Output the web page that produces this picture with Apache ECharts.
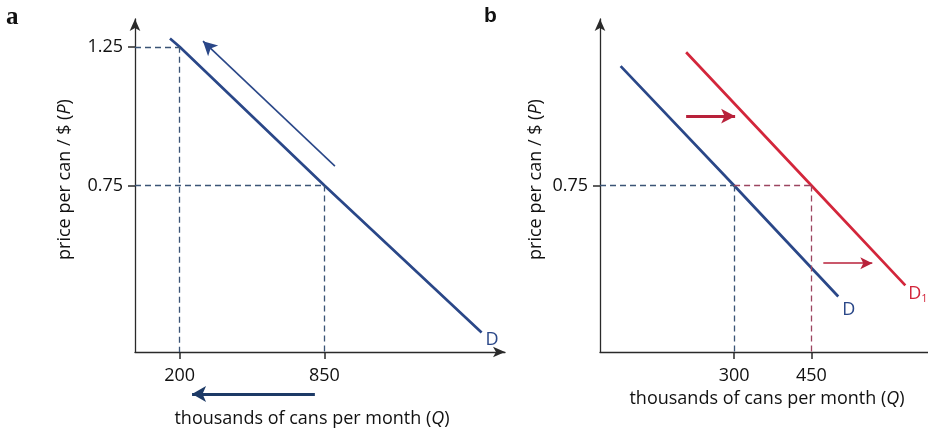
<!DOCTYPE html>
<html><head><meta charset="utf-8">
<script src="https://cdn.jsdelivr.net/npm/echarts@6/dist/echarts.min.js"></script>
<style>html,body{margin:0;padding:0;background:#fff}#c{width:928px;height:430px}</style>
</head><body><div id="c"></div>
<script>
// ---- data ----
const aTicksQ = [200, 850];
const aTicksP = [1.25, 0.75];
const aDemand = [[157, 1.28], [200, 1.25], [850, 0.75], [1555, 0.22]];
const aMoveAlong = [[897, 0.82], [305, 1.27]];
const aQuantityArrow = [[807, 0], [256, 0]];

const bTicksQ = [300, 450];
const bTicksP = [0.75];
const bDemandD = [[80, 1.18], [300, 0.75], [502, 0.35]];
const bDemandD1 = [[207, 1.23], [450, 0.75], [632, 0.39]];
const bShiftBig = [[207, 1.0], [302, 1.0]];
const bShiftSmall = [[473, 0.47], [568, 0.47]];

const xTitle = 'thousands of cans per month ({i|Q})';
const yTitle = 'price per can / $ ({i|P})';

// ---- styles ----
const FONT = 'Open Sans';
const FS = 18;
const BLUE = '#2a4788';
const RED = '#d3263b';
const NAVY_DASH = '#3b5476';
const RED_DASH = '#9c4560';
const AXIS = '#2a2a2a';
const TXT = '#111111';
const A_QMIN = 0, A_QMAX = 1660, PMIN = 0.15, PMAX = 1.35;
const B_QMIN = 40, B_QMAX = 676;

function seg(p1, p2, style, arrowSize) {
  return [
    {coord: p1, symbol: 'none', lineStyle: style},
    {coord: p2, symbol: arrowSize ? 'arrow' : 'none', symbolSize: arrowSize || 0, lineStyle: style}
  ];
}
const dashN = {color: NAVY_DASH, width: 1.3, type: [6, 4]};
const dashR = {color: RED_DASH, width: 1.3, type: [6, 4]};

const aMarks = [];
aTicksQ.forEach((q, i) => {
  const p = aTicksP[i];
  aMarks.push(seg([A_QMIN, p], [q, p], dashN));
  aMarks.push(seg([q, p], [q, PMIN], dashN));
});
aMarks.push(seg(aMoveAlong[0], aMoveAlong[1], {color: BLUE, width: 1.6, type: 'solid'}, [11, 14]));

const bMarks = [];
bMarks.push(seg([B_QMIN, bTicksP[0]], [bTicksQ[0], bTicksP[0]], dashN));
bMarks.push(seg([bTicksQ[0], bTicksP[0]], [bTicksQ[0], PMIN], dashN));
bMarks.push(seg([bTicksQ[0], bTicksP[0]], [bTicksQ[1], bTicksP[0]], dashR));
bMarks.push(seg([bTicksQ[1], bTicksP[0]], [bTicksQ[1], PMIN], dashR));
bMarks.push(seg(bShiftBig[0], bShiftBig[1], {color: '#b8213a', width: 3, type: 'solid'}, [11, 14]));
bMarks.push(seg(bShiftSmall[0], bShiftSmall[1], {color: '#b8213a', width: 1.5, type: 'solid'}, [9, 12]));

const labelBase = {fontFamily: FONT, fontSize: FS, color: TXT};
const rich = {i: {fontFamily: FONT, fontSize: FS, fontStyle: 'italic', color: TXT}};

function xAxis(gi, min, max, ticks, gap, arrow, pad) {
  return {
    type: 'value', gridIndex: gi, min: min, max: max,
    splitLine: {show: false},
    axisLine: {show: true, onZero: false, symbol: arrow ? ['none', 'arrow'] : ['none', 'none'], symbolSize: [8, 12], lineStyle: {color: AXIS, width: 1.3}},
    axisTick: {show: true, customValues: ticks, length: 7, lineStyle: {color: AXIS, width: 1.5}},
    axisLabel: {show: true, customValues: ticks, margin: 15, ...labelBase},
    name: xTitle, nameLocation: 'middle', nameGap: gap,
    nameTextStyle: {...labelBase, rich: rich, padding: pad}
  };
}
function yAxis(gi, ticks, gap) {
  return {
    type: 'value', gridIndex: gi, min: PMIN, max: PMAX,
    splitLine: {show: false},
    axisLine: {show: true, onZero: false, symbol: ['none', 'arrow'], symbolSize: [8, 12], lineStyle: {color: AXIS, width: 1.3}},
    axisTick: {show: true, customValues: ticks, length: 7, lineStyle: {color: AXIS, width: 1.5}},
    axisLabel: {show: true, customValues: ticks, margin: 12, formatter: v => v.toFixed(2), ...labelBase},
    name: yTitle, nameLocation: 'middle', nameGap: gap, nameRotate: 90,
    nameTextStyle: {...labelBase, rich: rich, padding: [0, 0, 0, 12]}
  };
}

const chart = echarts.init(document.getElementById('c'), null, {renderer: 'canvas'});
chart.setOption({
  animation: false,
  backgroundColor: '#ffffff',
  title: [
    {text: 'a', left: 6, top: 5, padding: 0, textStyle: {fontFamily: 'Liberation Serif', fontWeight: 'bold', fontSize: 25, color: '#111'}},
    {text: 'b', left: 484, top: 6, padding: 0, textStyle: {fontFamily: 'Liberation Sans', fontWeight: 'bold', fontSize: 21, color: '#111'}}
  ],
  grid: [
    {left: 135, right: 423, top: 19, bottom: 78, outerBoundsMode: 'none', containLabel: false},
    {left: 600, right: 0, top: 19, bottom: 78, outerBoundsMode: 'none', containLabel: false},
    {left: 135, right: 423, top: 384, bottom: 26, outerBoundsMode: 'none', containLabel: false}
  ],
  xAxis: [
    xAxis(0, A_QMIN, A_QMAX, aTicksQ, 58, true, [0, 16, 0, 0]),
    xAxis(1, B_QMIN, B_QMAX, bTicksQ, 37, false, [0, 0, 0, 6]),
    {type: 'value', gridIndex: 2, min: A_QMIN, max: A_QMAX, show: false}
  ],
  yAxis: [
    yAxis(0, aTicksP, 61),
    yAxis(1, bTicksP, 55),
    {type: 'value', gridIndex: 2, min: -1, max: 1, show: false}
  ],
  series: [
    {
      type: 'line', xAxisIndex: 0, yAxisIndex: 0, data: aDemand, showSymbol: false, clip: false,
      lineStyle: {color: BLUE, width: 2.7},
      endLabel: {show: true, formatter: 'D', color: BLUE, fontFamily: FONT, fontSize: FS, distance: 5, offset: [-1, 7]},
      markLine: {silent: true, animation: false, label: {show: false}, symbol: ['none', 'none'], data: aMarks}
    },
    {
      type: 'line', xAxisIndex: 2, yAxisIndex: 2, data: aQuantityArrow, showSymbol: false, clip: false,
      lineStyle: {color: '#1d3a66', width: 0, opacity: 0},
      markLine: {silent: true, animation: false, label: {show: false}, symbol: ['none', 'none'],
        data: [seg(aQuantityArrow[0], aQuantityArrow[1], {color: '#1d3a66', width: 3.2, type: 'solid'}, [12, 14])]}
    },
    {
      type: 'line', xAxisIndex: 1, yAxisIndex: 1, data: bDemandD, showSymbol: false, clip: false,
      lineStyle: {color: BLUE, width: 2.7},
      endLabel: {show: true, formatter: 'D', color: BLUE, fontFamily: FONT, fontSize: FS, distance: 4, offset: [0, 13]},
      markLine: {silent: true, animation: false, label: {show: false}, symbol: ['none', 'none'], data: bMarks}
    },
    {
      type: 'line', xAxisIndex: 1, yAxisIndex: 1, data: bDemandD1, showSymbol: false, clip: false,
      lineStyle: {color: RED, width: 2.7},
      endLabel: {show: true, formatter: '{m|D}{s|1}', distance: 3, offset: [0, 8],
        rich: {m: {color: RED, fontFamily: FONT, fontSize: FS}, s: {color: RED, fontFamily: FONT, fontSize: 11, padding: [10, 0, 0, 0]}}}
    }
  ]
});
</script></body></html>
